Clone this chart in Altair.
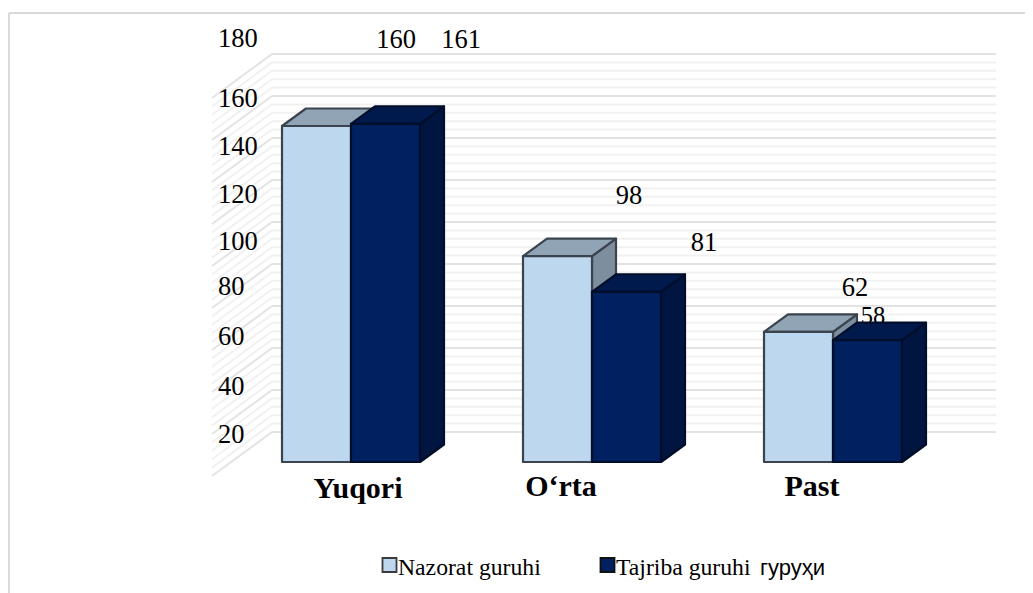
import altair as alt
import pandas as pd

# ---- chart values ----
categories = ["Yuqori", "O‘rta", "Past"]
nazorat = [160, 98, 62]
tajriba = [161, 81, 58]
series_names = ["Nazorat guruhi", "Tajriba guruhi"]
major_ticks = [0, 20, 40, 60, 80, 100, 120, 140, 160, 180]
axis_labels = [20, 40, 60, 80, 100, 120, 140, 160, 180]

# ---- layout (page pixels) ----
W, H = 1017, 585
PX_CAT, PX_VAL = 241.0, 2.1
ORIGIN_X, ORIGIN_Y = 351.0, 462.0       # centre of first group / value zero


def ux(page_x):
    return (page_x - ORIGIN_X) / PX_CAT


def uy(page_y):
    return (ORIGIN_Y - page_y) / PX_VAL


xs = alt.Scale(domain=[ux(8), ux(8 + W)], nice=False, zero=False)
ys = alt.Scale(domain=[uy(8 + H), uy(8)], nice=False, zero=False)
X = lambda f="x": alt.X(f"{f}:Q", scale=xs, axis=None)
Y = lambda f="y": alt.Y(f"{f}:Q", scale=ys, axis=None)

BAR_W = 69 / PX_CAT
DEPTH_X, DEPTH_Y = 24 / PX_CAT, 17.5 / PX_VAL
WALL_DX, WALL_DY = 60 / PX_CAT, 44 / PX_VAL
WALL_BASE = uy(432)
WALL_RIGHT = ux(996)
WALL_LEFT = ux(272)

COL = {
    0: dict(front="#bdd7ee", top="#90a4b6", side="#7d8e9f", stroke="#3b444e"),
    1: dict(front="#002060", top="#001a4e", side="#001640", stroke="#000e2a"),
}

# ---- 3-D bar faces, derived from the values through the scales ----
rows = []
pid = 0
for ci in range(len(categories)):
    for si, vals in enumerate([nazorat, tajriba]):
        v = vals[ci]
        x0 = ci - BAR_W + si * BAR_W
        x1 = x0 + BAR_W
        c = COL[si]
        # side face
        for xx, lo, hi in [(x1, 0, v), (x1 + DEPTH_X, DEPTH_Y, v + DEPTH_Y)]:
            rows.append(dict(p=pid, x=xx, y=lo, y2=hi, f=c["side"], s=c["stroke"]))
        pid += 1
        # top face
        for xx, lo, hi in [
            (x0, v, v),
            (x0 + DEPTH_X, v, v + DEPTH_Y),
            (x1, v, v + DEPTH_Y),
            (x1 + DEPTH_X, v + DEPTH_Y, v + DEPTH_Y),
        ]:
            rows.append(dict(p=pid, x=xx, y=lo, y2=hi, f=c["top"], s=c["stroke"]))
        pid += 1
        # front face
        for xx in (x0, x1):
            rows.append(dict(p=pid, x=xx, y=0, y2=v, f=c["front"], s=c["stroke"]))
        pid += 1
faces = pd.DataFrame(rows)

bars = (
    alt.Chart(faces)
    .mark_area(strokeWidth=2.2, strokeJoin="round", opacity=1)
    .encode(
        x=X(),
        y=Y(),
        y2=alt.Y2("y2:Q"),
        fill=alt.Fill("f:N", scale=None),
        stroke=alt.Stroke("s:N", scale=None),
        detail="p:N",
    )
)

# ---- walls ----
grid = []
for t in range(0, 181, 4):
    major = t in major_ticks
    yb = WALL_BASE + t
    grid.append(dict(x=WALL_LEFT, x2=WALL_RIGHT, y=yb, y2=yb, major=major))
    grid.append(dict(x=WALL_LEFT - WALL_DX, x2=WALL_LEFT, y=yb - WALL_DY, y2=yb, major=major))
grid = pd.DataFrame(grid)


def grid_layer(major, colour, width):
    return (
        alt.Chart(grid[grid.major == major])
        .mark_rule(color=colour, strokeWidth=width)
        .encode(x=X(), x2="x2:Q", y=Y(), y2="y2:Q")
    )


minor_layer = grid_layer(False, "#f1f1f1", 2)
major_layer = grid_layer(True, "#e3e3e3", 2)

# ---- chart frame: left and top edge only ----
frame = pd.DataFrame(
    [
        dict(x=ux(9), x2=ux(9), y=uy(13), y2=uy(8 + H)),
        dict(x=ux(9), x2=ux(8 + W), y=uy(13), y2=uy(13)),
    ]
)
frame_layer = (
    alt.Chart(frame)
    .mark_rule(color="#d9d9d9", strokeWidth=2)
    .encode(x=X(), x2="x2:Q", y=Y(), y2="y2:Q")
)

SERIF = "Liberation Serif"

# ---- value-axis labels, hand-placed in the source ----
axis_page_y = [435, 387, 337, 287, 242, 195, 147, 99, 39]
axis_df = pd.DataFrame(
    dict(t=[str(a) for a in axis_labels], x=[ux(218)] * len(axis_labels), y=[uy(p) for p in axis_page_y])
)
axis_layer = (
    alt.Chart(axis_df)
    .mark_text(font=SERIF, fontSize=26.5, align="left", baseline="middle", color="#000000")
    .encode(x=X(), y=Y(), text="t:N")
)

# ---- value labels, offset from their bars ----
label_off_x = [79.5, 75.5, 71.5, 77.5, 56.5, 5.5]
label_off_y = [-86, -84, -60, -49, -44, -23]
lab = []
k = 0
for ci in range(len(categories)):
    for si, vals in enumerate([nazorat, tajriba]):
        cx = ci - BAR_W + si * BAR_W + BAR_W / 2
        lab.append(
            dict(
                t=str(vals[ci]),
                x=cx + label_off_x[k] / PX_CAT,
                y=vals[ci] - label_off_y[k] / PX_VAL,
                small=(vals[ci] == 58),
            )
        )
        k += 1
lab = pd.DataFrame(lab)
value_layer = (
    alt.Chart(lab)
    .mark_text(font=SERIF, align="center", baseline="middle", color="#000000")
    .encode(
        x=X(),
        y=Y(),
        text="t:N",
        size=alt.Size("small:N", scale=alt.Scale(domain=[False, True], range=[26.5, 24.5]), legend=None),
    )
)

# ---- category labels ----
cat_df = pd.DataFrame(
    dict(t=categories, x=[ux(358), ux(561), ux(812)], y=[uy(489), uy(487), uy(487)])
)
cat_layer = (
    alt.Chart(cat_df)
    .mark_text(font=SERIF, fontSize=30, fontWeight="bold", align="center", baseline="middle", color="#000000")
    .encode(x=X(), y=Y(), text="t:N")
)

# ---- legend ----
leg_sq = pd.DataFrame(
    dict(
        x=[ux(389.5), ux(607.5)],
        y=[uy(565), uy(565)],
        f=[COL[0]["front"], COL[1]["front"]],
        s=["#3a3a3a", "#111111"],
    )
)
leg_sq_layer = (
    alt.Chart(leg_sq)
    .mark_point(shape="square", filled=True, size=196, strokeWidth=1.8, opacity=1)
    .encode(
        x=X(),
        y=Y(),
        fill=alt.Fill("f:N", scale=None),
        stroke=alt.Stroke("s:N", scale=None),
    )
)
leg_txt = pd.DataFrame(
    dict(t=series_names, x=[ux(398), ux(616)], y=[uy(568), uy(568)])
)
leg_txt_layer = (
    alt.Chart(leg_txt)
    .mark_text(font=SERIF, fontSize=23.7, align="left", baseline="middle", color="#000000")
    .encode(x=X(), y=Y(), text="t:N")
)
leg_extra = pd.DataFrame(dict(t=["гуруҳи"], x=[ux(760)], y=[uy(568)]))
leg_extra_layer = (
    alt.Chart(leg_extra)
    .mark_text(font="Liberation Sans", fontSize=22, align="left", baseline="middle", color="#000000")
    .encode(x=X(), y=Y(), text="t:N")
)

chart = (
    alt.layer(
        frame_layer,
        minor_layer,
        major_layer,
        axis_layer,
        value_layer,
        bars,
        cat_layer,
        leg_sq_layer,
        leg_txt_layer,
        leg_extra_layer,
    )
    .properties(width=W, height=H, padding=0, background="#ffffff")
    .configure_view(stroke=None)
)
chart.autosize = alt.AutoSizeParams(type="none")

chart.save("out.html", embed_options={"renderer": "svg", "actions": False})
